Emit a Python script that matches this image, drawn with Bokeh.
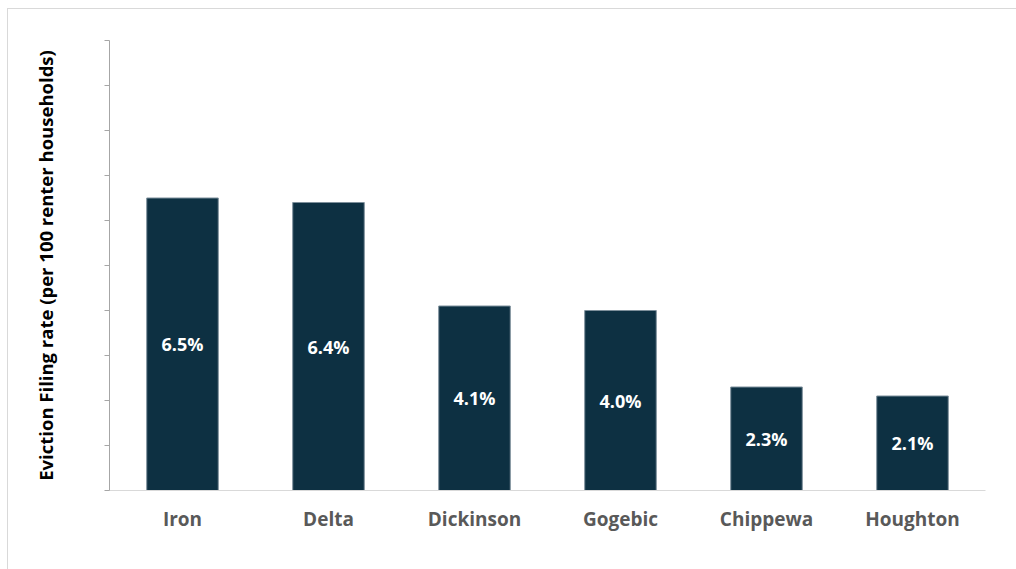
from bokeh.plotting import figure
from bokeh.models import ColumnDataSource, FixedTicker, LabelSet
from bokeh.core.properties import value
from bokeh.embed import file_html
from bokeh.resources import INLINE

counties = ["Iron", "Delta", "Dickinson", "Gogebic", "Chippewa", "Houghton"]
rates = [6.5, 6.4, 4.1, 4.0, 2.3, 2.1]
y_ticks = [0, 1, 2, 3, 4, 5, 6, 7, 8, 9, 10]

src = ColumnDataSource(dict(
    county=counties,
    rate=rates,
    mid=[r / 2 for r in rates],
    label=[f"{r:.1f}%" for r in rates],
))

FONT = "Open Sans"

p = figure(
    x_range=counties, y_range=(0, 10),
    width=1009, height=561,
    output_backend="svg", toolbar_location=None,
    min_border_left=101, min_border_right=32, min_border_top=31, min_border_bottom=80,
)
p.styles = {"border-left": "1px solid #d9d9d9", "border-top": "1px solid #d9d9d9",
            "margin-left": "7px", "margin-top": "8px"}
p.x_range.range_padding = 0
p.outline_line_color = None
p.grid.grid_line_color = None
p.background_fill_color = "white"
p.border_fill_color = "white"

p.vbar(x="county", top="rate", width=0.49, source=src,
       fill_color="#0d3042", line_color="#7d8f9b", line_width=1)

labels = LabelSet(x="county", y="mid", text="label", source=src,
                  text_align="center", text_baseline="middle",
                  text_color="white", text_font=value(FONT),
                  text_font_style="bold", text_font_size="18px")
p.add_layout(labels)

ya = p.yaxis[0]
ya.ticker = FixedTicker(ticks=y_ticks)
ya.major_label_overrides = {t: "" for t in y_ticks}
ya.major_label_standoff = 0
ya.axis_line_color = "#a6a6a6"
ya.major_tick_line_color = "#a6a6a6"
ya.major_tick_out = 5
ya.major_tick_in = 0
ya.minor_tick_line_color = None
ya.axis_label = "Eviction Filing rate (per 100 renter households)"
ya.axis_label_text_font = FONT
ya.axis_label_text_font_style = "bold"
ya.axis_label_text_font_size = "18.5px"
ya.axis_label_text_color = "black"
ya.axis_label_standoff = 47

xa = p.xaxis[0]
xa.axis_line_color = "#d9d9d9"
xa.major_tick_line_color = None
xa.minor_tick_line_color = None
xa.major_label_text_font = FONT
xa.major_label_text_font_style = "bold"
xa.major_label_text_font_size = "19px"
xa.major_label_text_color = "#595959"
xa.major_label_standoff = 9

open("out.html", "w").write(file_html(p, INLINE))
